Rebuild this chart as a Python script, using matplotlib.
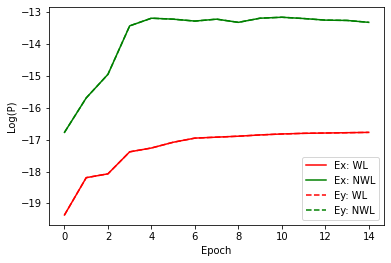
import matplotlib
matplotlib.use("Agg")
import matplotlib.pyplot as plt
import numpy as np

epochs = np.arange(15)
ex_wl = [-19.36, -18.19, -18.07, -17.38, -17.26, -17.08, -16.95, -16.92,
         -16.89, -16.85, -16.82, -16.80, -16.79, -16.78, -16.77]
ex_nwl = [-16.77, -15.69, -14.95, -13.43, -13.19, -13.22, -13.28, -13.22,
          -13.32, -13.19, -13.16, -13.20, -13.25, -13.26, -13.32]
ey_wl = list(ex_wl)
ey_nwl = list(ex_nwl)

fig = plt.figure(figsize=(391 / 72, 263 / 72), dpi=72)
ax = fig.add_subplot(111)
fig.subplots_adjust(left=0.126, right=0.982, top=0.972, bottom=0.145)

ax.plot(epochs, ex_wl, "r-", label="Ex: WL")
ax.plot(epochs, ex_nwl, "g-", label="Ex: NWL")
ax.plot(epochs, ey_wl, "r--", label="Ey: WL")
ax.plot(epochs, ey_nwl, "g--", label="Ey: NWL")

ax.set_xticks(range(0, 15, 2))
ax.set_xlabel("Epoch")
ax.set_ylabel("Log(P)")
ax.legend(loc="lower right")

fig.savefig("out.png", dpi=72)
